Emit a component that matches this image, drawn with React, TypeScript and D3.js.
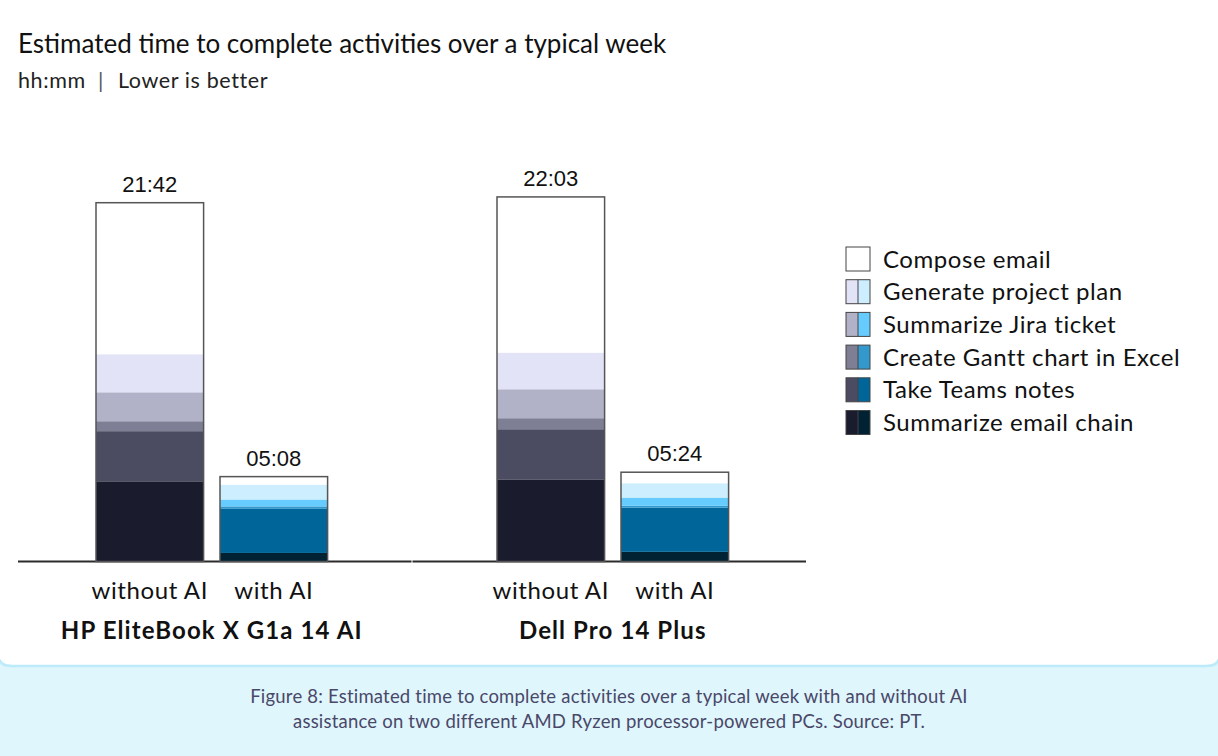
import React, { useEffect, useRef } from "react";
import * as d3 from "d3";

// Activities, in legend order (top of stack first)
const activities = [
  "Compose email",
  "Generate project plan",
  "Summarize Jira ticket",
  "Create Gantt chart in Excel",
  "Take Teams notes",
  "Summarize email chain",
];

const systems = ["HP EliteBook X G1a 14 AI", "Dell Pro 14 Plus"];
const conditions = ["without AI", "with AI"];

// minutes per activity, same order as `activities`
const hpWithoutAI = [550, 138, 105, 36, 182, 291];
const hpWithAI = [29, 54, 25, 9, 160, 31];
const dellWithoutAI = [565, 133, 105, 40, 182, 298];
const dellWithAI = [40, 52, 30, 7, 160, 35];

const colorsWithoutAI = ["#FFFFFF", "#E3E3F8", "#B1B1C8", "#7E7E94", "#4B4B61", "#1B1B2E"];
const colorsWithAI = ["#FFFFFF", "#CCEEFF", "#66CCFF", "#3399CC", "#006699", "#002233"];

const captionLines = [
  "Figure 8: Estimated time to complete activities over a typical week with and without AI",
  "assistance on two different AMD Ryzen processor-powered PCs. Source: PT.",
];

const W = 1218;
const H = 756;
const FONT = "Lato, 'Noto Sans', sans-serif";

const fmt = (m: number) =>
  `${String(Math.floor(m / 60)).padStart(2, "0")}:${String(m % 60).padStart(2, "0")}`;

export default function App() {
  const svgRef = useRef<SVGSVGElement>(null);

  useEffect(() => {
    if (!svgRef.current) return;
    const svg = d3.select(svgRef.current);
    svg.selectAll("*").remove();

    // background + card
    svg.append("rect").attr("width", W).attr("height", H).attr("fill", "#DFF6FD");
    const cardBottom = 666;
    const r = 12;
    svg
      .append("path")
      .attr(
        "d",
        `M-2,-10 L${W + 2},-10 L${W + 2},${cardBottom - r} Q${W + 2},${cardBottom} ${W - r},${cardBottom} L${r},${cardBottom} Q-2,${cardBottom} -2,${cardBottom - r} Z`
      )
      .attr("fill", "#FFFFFF")
      .attr("stroke", "#BDEBF9")
      .attr("stroke-width", 2.5);

    // titles
    svg
      .append("text")
      .attr("x", 18)
      .attr("y", 53)
      .attr("font-family", FONT)
      .attr("font-size", 26)
      .attr("fill", "#111")
      .text("Estimated time to complete activities over a typical week");
    const sub = svg
      .append("text")
      .attr("y", 88)
      .attr("font-family", FONT)
      .attr("font-size", 21.5)
      .attr("letter-spacing", 0.6)
      .attr("fill", "#222");
    sub.append("tspan").attr("x", 18).text("hh:mm");
    sub.append("tspan").attr("x", 98).attr("fill", "#555").text("|");
    sub.append("tspan").attr("x", 118).text("Lower is better");

    const baseline = 561.5;
    const y = d3.scaleLinear().domain([0, 1400]).range([baseline, 175.7]);
    const x0 = d3.scaleBand<string>().domain(systems).range([18, 820]).padding(0);
    const x1 = d3
      .scaleBand<string>()
      .domain(conditions)
      .range([78, 309.6])
      .paddingInner(0.1323)
      .paddingOuter(0);

    // category axis line, one per system
    [[18, 411.5], [412.5, 806]].forEach(([a, b]) => {
      svg
        .append("line")
        .attr("x1", a)
        .attr("x2", b)
        .attr("y1", baseline)
        .attr("y2", baseline)
        .attr("stroke", "#2b2b2b")
        .attr("stroke-width", 2);
    });

    const series = [
      [hpWithoutAI, hpWithAI],
      [dellWithoutAI, dellWithAI],
    ];

    systems.forEach((sys, gi) => {
      const g = svg.append("g").attr("transform", `translate(${x0(sys)},0)`);

      conditions.forEach((cond, ci) => {
        const vals = series[gi][ci];
        const cols = ci === 0 ? colorsWithoutAI : colorsWithAI;
        const bx = x1(cond)!;
        const bw = x1.bandwidth();
        // stack bottom-up: last activity at bottom
        let acc = 0;
        for (let i = activities.length - 1; i >= 0; i--) {
          const v = vals[i];
          g.append("rect")
            .attr("x", bx)
            .attr("width", bw)
            .attr("y", y(acc + v))
            .attr("height", y(acc) - y(acc + v))
            .attr("fill", cols[i]);
          acc += v;
        }
        g.append("rect")
          .attr("x", bx)
          .attr("width", bw)
          .attr("y", y(acc))
          .attr("height", baseline - y(acc))
          .attr("fill", "none")
          .attr("stroke", "#555")
          .attr("stroke-width", 1.5);
        g.append("text")
          .attr("x", bx + bw / 2)
          .attr("y", y(acc) - 11)
          .attr("text-anchor", "middle")
          .attr("font-family", "'Liberation Sans', Arial, sans-serif")
          .attr("font-size", 22)
          .attr("fill", "#111")
          .text(fmt(acc));
        g.append("text")
          .attr("x", bx + bw / 2)
          .attr("y", 599)
          .attr("text-anchor", "middle")
          .attr("font-family", FONT)
          .attr("font-size", 24)
          .attr("letter-spacing", 0.6)
          .attr("fill", "#111")
          .text(cond);
      });

      g.append("text")
        .attr("x", (x1("without AI")! + x1("with AI")! + x1.bandwidth()) / 2)
        .attr("y", 639)
        .attr("text-anchor", "middle")
        .attr("font-family", FONT)
        .attr("font-weight", "bold")
        .attr("font-size", 24)
        .attr("letter-spacing", 1.1)
        .attr("fill", "#111")
        .text(sys);
    });

    // legend
    const legend = svg.append("g").attr("transform", "translate(846,247)");
    activities.forEach((a, i) => {
      const row = legend.append("g").attr("transform", `translate(0,${i * 32.7})`);
      row.append("rect").attr("width", 12).attr("height", 24).attr("fill", colorsWithoutAI[i]);
      row.append("rect").attr("x", 12).attr("width", 12).attr("height", 24).attr("fill", colorsWithAI[i]);
      row
        .append("rect")
        .attr("width", 24)
        .attr("height", 24)
        .attr("fill", "none")
        .attr("stroke", "#444")
        .attr("stroke-width", 1);
      if (i > 0) {
        row.append("line").attr("x1", 12).attr("x2", 12).attr("y1", 0).attr("y2", 24).attr("stroke", "#444").attr("stroke-width", 1);
      }
      row
        .append("text")
        .attr("x", 37)
        .attr("y", 20.5)
        .attr("font-family", FONT)
        .attr("font-size", 24)
        .attr("letter-spacing", 0.55)
        .attr("fill", "#111")
        .text(a);
    });

    // caption
    captionLines.forEach((line, i) => {
      svg
        .append("text")
        .attr("x", 609)
        .attr("y", 703 + i * 25)
        .attr("text-anchor", "middle")
        .attr("font-family", FONT)
        .attr("font-size", 18.5)
        .attr("letter-spacing", 0.2)
        .attr("fill", "#4A4868")
        .text(line);
    });
  }, []);

  return (
    <svg
      ref={svgRef}
      width={W}
      height={H}
      style={{ position: "absolute", left: 0, top: 0, display: "block" }}
    />
  );
}
